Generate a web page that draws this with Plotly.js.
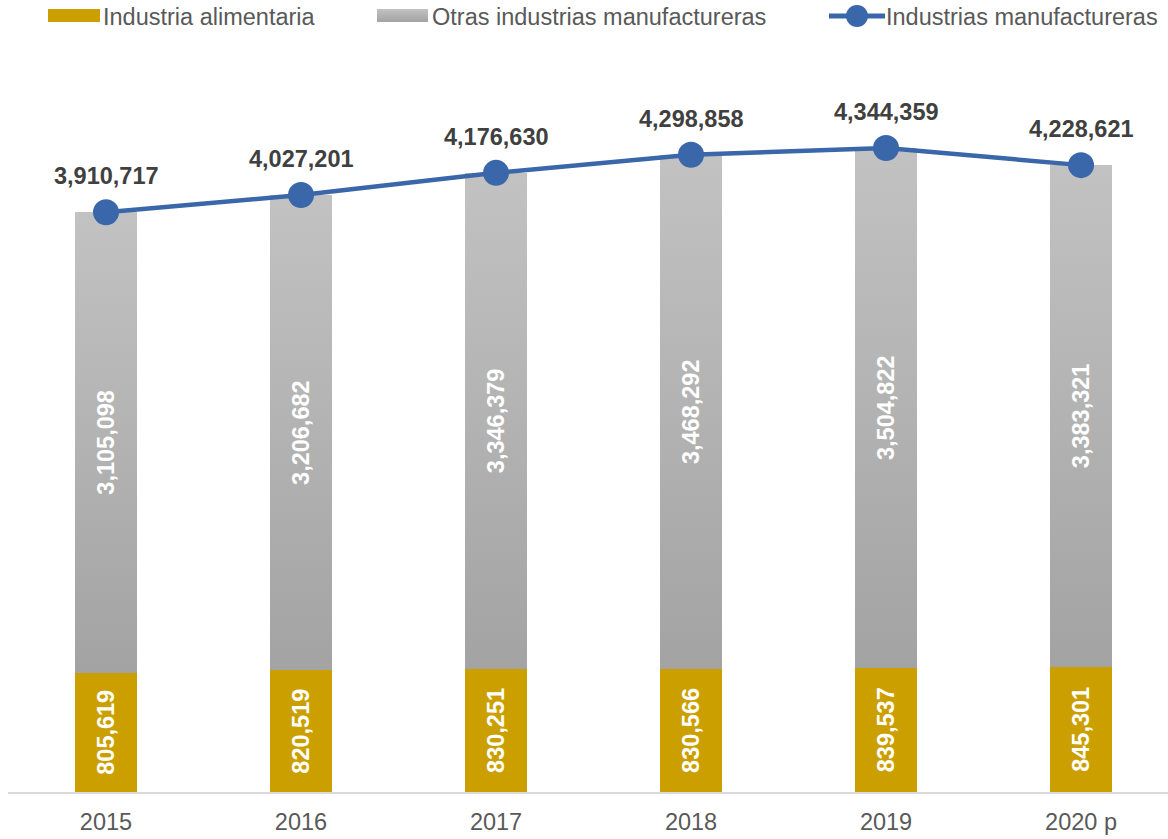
<!DOCTYPE html>
<html>
<head>
<meta charset="utf-8">
<script src="https://cdn.plot.ly/plotly-3.0.1.min.js"></script>
<style>
  html, body { margin: 0; padding: 0; background: #fff; }
  #chart { width: 1168px; height: 839px; }
</style>
</head>
<body>
<div id="chart"></div>
<script>
const years = ["2015", "2016", "2017", "2018", "2019", "2020 p"];
const alimentaria = [805619, 820519, 830251, 830566, 839537, 845301];
const otras = [3105098, 3206682, 3346379, 3468292, 3504822, 3383321];
const manufactureras = [3910717, 4027201, 4176630, 4298858, 4344359, 4228621];

const seriesNames = ["Industria alimentaria", "Otras industrias manufactureras", "Industrias manufactureras"];

const FONT = "Liberation Sans, Arial, sans-serif";
const GOLD = "#CC9F00";
const BLUE = "#3A66AA";
const fmt = v => v.toLocaleString("en-US");

const traces = [
  {
    type: "bar", name: seriesNames[0], x: years, y: alimentaria,
    marker: { color: GOLD, line: { width: 0 } },
    text: alimentaria.map(fmt), textposition: "inside", insidetextanchor: "middle",
    textangle: -90, constraintext: "none",
    textfont: { family: FONT, size: 23.5, color: "#ffffff", weight: "bold" },
    hoverinfo: "skip", showlegend: false
  },
  {
    type: "bar", name: seriesNames[1], x: years, y: otras,
    marker: { color: "#b4b4b4", line: { width: 0 } },
    text: otras.map(fmt), textposition: "inside", insidetextanchor: "middle",
    textangle: -90, constraintext: "none",
    textfont: { family: FONT, size: 23.5, color: "#ffffff", weight: "bold" },
    hoverinfo: "skip", showlegend: false
  },
  {
    type: "scatter", mode: "lines+markers", name: seriesNames[2], x: years, y: manufactureras,
    line: { color: BLUE, width: 4.5 },
    marker: { color: BLUE, size: 26 },
    hoverinfo: "skip", showlegend: false
  }
];

// category index used as x so numeric-looking category names are not misread
const annotations = years.map((yr, i) => ({
  x: i, y: manufactureras[i], xref: "x", yref: "y",
  text: fmt(manufactureras[i]), showarrow: false,
  yshift: 36, xanchor: "center", yanchor: "middle",
  font: { family: FONT, size: 23.5, color: "#404040", weight: "bold" }
}));

// custom legend (paper coords: plot x 8..1168 px, y 53..792 px)
const px = p => (p - 8) / 1160;
const py = p => (792 - p) / 739;
const legendText = [
  { x: 101, text: seriesNames[0] },
  { x: 430, text: seriesNames[1] },
  { x: 884, text: seriesNames[2] }
];
legendText.forEach(l => annotations.push({
  xref: "paper", yref: "paper", x: px(l.x), y: py(17), text: l.text,
  showarrow: false, xanchor: "left", yanchor: "middle",
  font: { family: FONT, size: 23.5, color: "#595959" }
}));

const shapes = [
  { type: "rect", xref: "paper", yref: "paper", x0: px(48), x1: px(100), y0: py(22), y1: py(9),
    fillcolor: GOLD, line: { width: 0 } },
  { type: "rect", xref: "paper", yref: "paper", x0: px(377), x1: px(428), y0: py(22), y1: py(9),
    fillcolor: "#b4b4b4", line: { width: 0 } },
  { type: "line", xref: "paper", yref: "paper", x0: px(829), x1: px(885), y0: py(16), y1: py(16),
    line: { color: BLUE, width: 5 } },
  { type: "circle", xref: "paper", yref: "paper", x0: px(846), x1: px(868), y0: py(27), y1: py(5),
    fillcolor: BLUE, line: { width: 0 } }
];

const layout = {
  width: 1168, height: 839,
  margin: { l: 8, r: 0, t: 53, b: 47, pad: 0 },
  paper_bgcolor: "#ffffff", plot_bgcolor: "#ffffff",
  barmode: "stack", bargap: 0.682,
  showlegend: false,
  font: { family: FONT, size: 23.5, color: "#595959" },
  xaxis: {
    type: "category", range: [-0.5026, 5.446], fixedrange: true,
    showline: true, linecolor: "#d9d9d9", linewidth: 2,
    showgrid: false, zeroline: false, ticks: "",
    ticklabelstandoff: 8,
    tickfont: { family: FONT, size: 23.5, color: "#595959" }
  },
  yaxis: {
    range: [0, 4985000], fixedrange: true,
    showgrid: false, zeroline: false, showticklabels: false, showline: false, ticks: ""
  },
  annotations: annotations,
  shapes: shapes
};

Plotly.newPlot("chart", traces, layout, { displayModeBar: false, staticPlot: true }).then(gd => {
  const svg = gd.querySelector("svg.main-svg");
  const ns = "http://www.w3.org/2000/svg";
  let defs = svg.querySelector("defs");
  if (!defs) { defs = document.createElementNS(ns, "defs"); svg.insertBefore(defs, svg.firstChild); }
  const grad = document.createElementNS(ns, "linearGradient");
  grad.setAttribute("id", "grayGrad");
  grad.setAttribute("x1", "0"); grad.setAttribute("y1", "0");
  grad.setAttribute("x2", "0"); grad.setAttribute("y2", "1");
  [["0", "#c2c2c2"], ["1", "#a3a3a3"]].forEach(([o, c]) => {
    const s = document.createElementNS(ns, "stop");
    s.setAttribute("offset", o); s.setAttribute("stop-color", c);
    grad.appendChild(s);
  });
  defs.appendChild(grad);
  const barTraces = gd.querySelectorAll(".barlayer .trace");
  if (barTraces[1]) {
    barTraces[1].querySelectorAll(".point path").forEach(p => { p.style.fill = "url(#grayGrad)"; });
  }
  const shp = gd.querySelectorAll(".shapelayer path");
  if (shp[1]) shp[1].style.fill = "url(#grayGrad)";
});
</script>
</body>
</html>
